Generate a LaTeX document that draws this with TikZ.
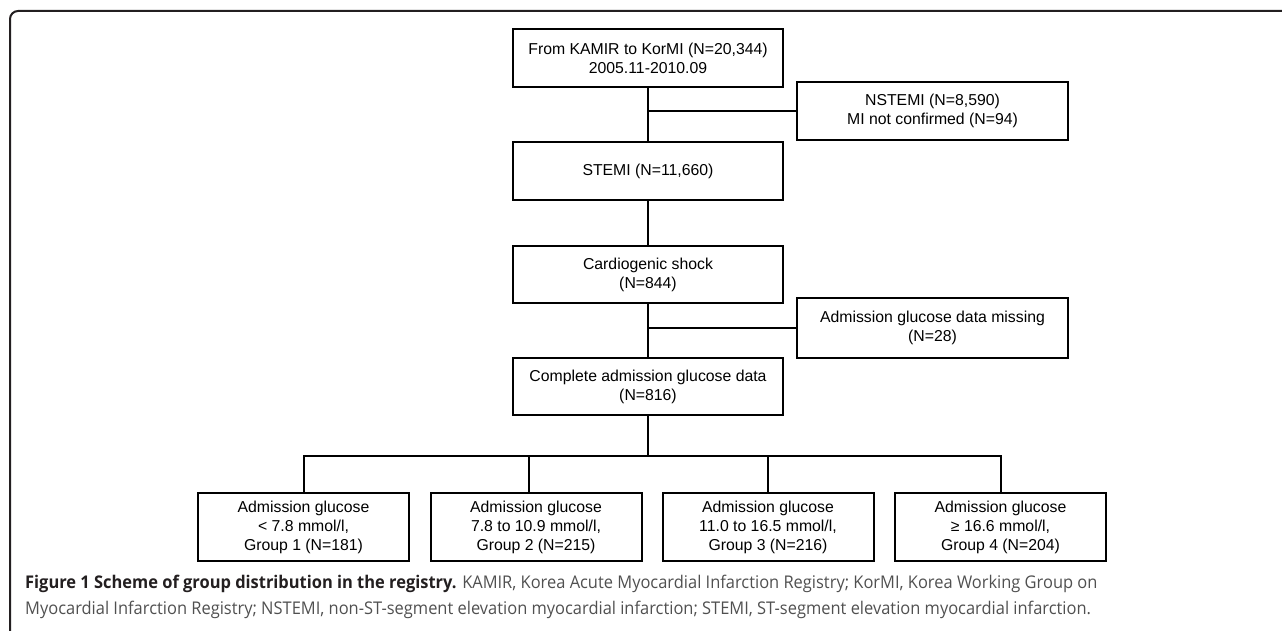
\documentclass[tikz,border=0pt]{standalone}
\usepackage{fontspec}
\setmainfont{Liberation Sans}
\newfontfamily\capfont[FakeStretch=0.94]{Open Sans}
\definecolor{framec}{HTML}{231F20}
\definecolor{capbold}{HTML}{231F20}
\definecolor{capreg}{HTML}{505050}
\begin{document}
\begin{tikzpicture}[x=1pt,y=-1pt,
  box/.style={draw=black, line width=2pt, minimum width=270pt, minimum height=58pt,
    align=center, inner sep=0pt, font=\fontsize{15.8}{19}\selectfont},
  gbox/.style={box, minimum width=211pt, minimum height=68pt},
  conn/.style={draw=black, line width=2pt},
  captext/.style={anchor=base west, inner sep=0pt, text=capreg,
    font=\capfont\fontsize{17.5}{21}\selectfont}]
\useasboundingbox (0,0) rectangle (1282,631);
% frame
\draw[line width=2pt, draw=framec, rounded corners=8pt] (10,631) -- (10,11) -- (1282,11);
% boxes
\node[box] (b1) at (648,58) {From KAMIR to KorMI (N=20,344)\\2005.11-2010.09};
\node[box, minimum width=271pt] (ns) at (932.5,111) {NSTEMI (N=8,590)\\MI not confirmed (N=94)};
\node[box] (st) at (648,171) {STEMI (N=11,660)};
\node[box, minimum height=57pt] (cs) at (648,274.5) {Cardiogenic shock\\(N=844)};
\node[box, minimum width=271pt, minimum height=60pt] (mi) at (932.5,328) {Admission glucose data missing\\(N=28)};
\node[box, minimum height=57pt] (co) at (648,386.5) {Complete admission glucose data\\(N=816)};
\node[gbox] (g1) at (303.5,527) {Admission glucose\\< 7.8 mmol/l,\\Group 1 (N=181)};
\node[gbox] (g2) at (536,527) {Admission glucose\\7.8 to 10.9 mmol/l,\\Group 2 (N=215)};
\node[gbox] (g3) at (768,527) {Admission glucose\\11.0 to 16.5 mmol/l,\\Group 3 (N=216)};
\node[gbox] (g4) at (1000.5,527) {Admission glucose\\≥ 16.6 mmol/l,\\Group 4 (N=204)};
% connectors
\coordinate (j1) at (b1.south |- ns.west);
\coordinate (j2) at (cs.south |- mi.west);
\coordinate (j3) at (648,456);
\coordinate (h1) at (g1.north |- j3);
\coordinate (h2) at (529,456);
\coordinate (h3) at (g3.north |- j3);
\coordinate (h4) at (g4.north |- j3);
\draw[conn] (b1.south) -- (st.north);
\draw[conn] (j1) -- (ns.west);
\draw[conn] (st.south) -- (cs.north);
\draw[conn] (cs.south) -- (co.north);
\draw[conn] (j2) -- (mi.west);
\draw[conn] (co.south) -- (j3);
\draw[conn] (g1.north) -- (h1) -- (h4) -- (g4.north);
\draw[conn] (h2) -- (h2 |- g2.north);
\draw[conn] (h3) -- (g3.north);
% caption
\node[captext] (cap1) at (25,588) {{\bfseries\color{capbold}Figure 1 Scheme of group distribution in the registry.} KAMIR, Korea Acute Myocardial Infarction Registry; KorMI, Korea Working Group on};
\node[captext] (cap2) at (25,614) {Myocardial Infarction Registry; NSTEMI, non-ST-segment elevation myocardial infarction; STEMI, ST-segment elevation myocardial infarction.};
\end{tikzpicture}
\end{document}
